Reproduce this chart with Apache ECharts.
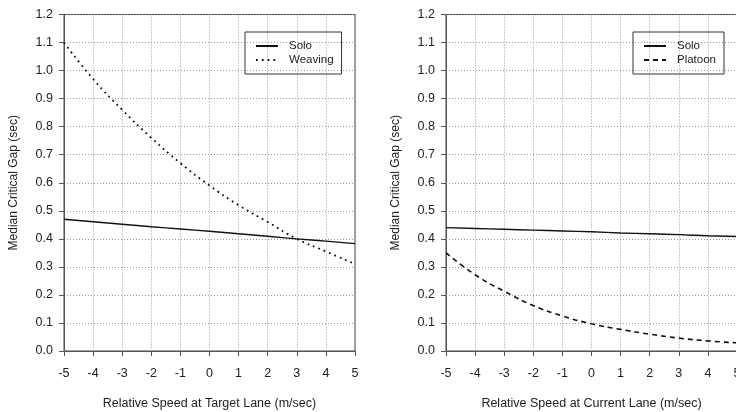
<!DOCTYPE html>
<html>
<head>
<meta charset="utf-8">
<script src="https://cdn.jsdelivr.net/npm/echarts@6/dist/echarts.min.js"></script>
<style>
html,body{margin:0;padding:0;background:#fff;}
#chart{width:736px;height:412px;}
</style>
</head>
<body>
<div id="chart"></div>
<script>
const speeds = [-5, -4, -3, -2, -1, 0, 1, 2, 3, 4, 5];
const leftSolo = [0.470, 0.461, 0.452, 0.443, 0.435, 0.427, 0.418, 0.409, 0.400, 0.392, 0.383];
const leftWeaving = [1.10, 0.97, 0.86, 0.76, 0.67, 0.59, 0.52, 0.46, 0.40, 0.355, 0.31];
const rightSolo = [0.440, 0.437, 0.434, 0.431, 0.428, 0.425, 0.421, 0.418, 0.415, 0.411, 0.408];
const rightPlatoon = [0.35, 0.272, 0.213, 0.162, 0.125, 0.097, 0.077, 0.060, 0.046, 0.036, 0.029];
const leftXTitle = 'Relative Speed at Target Lane (m/sec)';
const rightXTitle = 'Relative Speed at Current Lane (m/sec)';
const yTitle = 'Median Critical Gap (sec)';

const pairs = (ys) => speeds.map((x, i) => [x, ys[i]]);
const FONT = 'Liberation Sans, Arial, sans-serif';
const axisColor = '#555';
const textColor = '#222';

function xAxis(gridIndex, title) {
  return {
    type: 'value', gridIndex, min: -5, max: 5, interval: 1,
    name: title, nameLocation: 'middle', nameGap: 46,
    nameTextStyle: {fontFamily: FONT, fontSize: 12.5, color: textColor},
    axisLine: {show: true, onZero: false, lineStyle: {color: axisColor, width: 1}},
    axisTick: {show: true, length: 5, lineStyle: {color: axisColor}},
    axisLabel: {fontFamily: FONT, fontSize: 12.5, color: textColor, margin: 16},
    splitLine: {show: true, lineStyle: {color: '#999', type: [1, 2], width: 1}}
  };
}
function yAxis(gridIndex) {
  return {
    type: 'value', gridIndex, min: 0, max: 1.2, interval: 0.1,
    name: yTitle, nameLocation: 'middle', nameGap: 44,
    nameTextStyle: {fontFamily: FONT, fontSize: 12, color: textColor},
    axisLine: {show: true, onZero: false, lineStyle: {color: axisColor, width: 1}},
    axisTick: {show: true, length: 5, lineStyle: {color: axisColor}},
    axisLabel: {fontFamily: FONT, fontSize: 12.5, color: textColor, margin: 11,
      formatter: v => v.toFixed(1)},
    splitLine: {show: true, lineStyle: {color: '#999', type: [1, 2], width: 1}}
  };
}
function legend(left, names) {
  return {
    left, top: 32, orient: 'vertical',
    data: names,
    itemWidth: 22, itemHeight: 10, itemGap: 2,
    padding: [8, 8, 8, 10],
    borderColor: '#333', borderWidth: 1, borderRadius: 0,
    itemStyle: {opacity: 0, borderWidth: 0},
    textStyle: {fontFamily: FONT, fontSize: 11.5, color: textColor, padding: [0, 0, 0, 6]},
    selectedMode: false
  };
}

const chart = echarts.init(document.getElementById('chart'), null, {renderer: 'canvas'});
chart.setOption({
  animation: false,
  backgroundColor: '#fff',
  grid: [
    {left: 64, top: 14.5, width: 291, height: 336.5, show: true, borderColor: '#444', borderWidth: 1,
      outerBoundsMode: 'none', containLabel: false},
    {left: 446, top: 14.5, width: 291, height: 336.5, show: true, borderColor: '#444', borderWidth: 1,
      outerBoundsMode: 'none', containLabel: false}
  ],
  xAxis: [xAxis(0, leftXTitle), xAxis(1, rightXTitle)],
  yAxis: [yAxis(0), yAxis(1)],
  legend: [legend(245, ['Solo', 'Weaving']), legend(633, ['Solo', 'Platoon'])],
  series: [
    {name: 'Solo', type: 'line', xAxisIndex: 0, yAxisIndex: 0, data: pairs(leftSolo),
      symbol: 'none', smooth: true, lineStyle: {color: '#111', width: 1.4, type: 'solid'}, itemStyle: {color: '#111'}},
    {name: 'Weaving', type: 'line', xAxisIndex: 0, yAxisIndex: 0, data: pairs(leftWeaving),
      symbol: 'none', smooth: true, lineStyle: {color: '#111', width: 1.8, type: [1.8, 4]}, itemStyle: {color: '#111'}},
    {name: 'Solo', type: 'line', xAxisIndex: 1, yAxisIndex: 1, data: pairs(rightSolo),
      symbol: 'none', smooth: true, lineStyle: {color: '#111', width: 1.4, type: 'solid'}, itemStyle: {color: '#111'}},
    {name: 'Platoon', type: 'line', xAxisIndex: 1, yAxisIndex: 1, data: pairs(rightPlatoon),
      symbol: 'none', smooth: true, lineStyle: {color: '#111', width: 1.6, type: [5, 4]}, itemStyle: {color: '#111'}}
  ]
});
</script>
</body>
</html>
